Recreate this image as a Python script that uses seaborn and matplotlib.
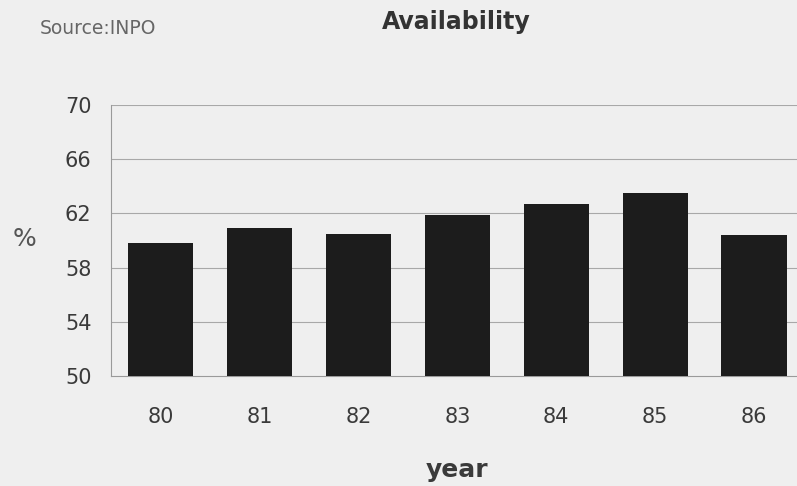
import matplotlib
matplotlib.use("Agg")
import matplotlib.pyplot as plt
import seaborn as sns
import pandas as pd
import numpy as np

# Annual plant availability (%)
years = ["80", "81", "82", "83", "84", "85", "86"]
availability = [59.8, 60.9, 60.5, 61.9, 62.7, 63.5, 60.4]
y_ticks = [50, 54, 58, 62, 66, 70]

df = pd.DataFrame({"year": years, "availability": availability})

sns.set_theme(style="white")
plt.rcParams["font.family"] = ["DejaVu Sans"]

bg = "#efefef"
text_col = "#3a3a3a"

fig = plt.figure(figsize=(7.97, 4.86), dpi=100, facecolor=bg)
ax = fig.add_axes([0.1393, 0.2263, 0.869, 0.5576])
ax.set_facecolor(bg)

sns.barplot(data=df, x="year", y="availability", color="#1c1c1c",
            width=0.66, saturation=1, linewidth=0, edgecolor="none",
            ax=ax, zorder=3)

ax.set_ylim(50, 70)
ax.set_xlim(-0.5, len(years) - 0.5)
ax.set_yticks(y_ticks)
ax.set_yticklabels([str(t) for t in y_ticks])

# horizontal grid lines
for t in y_ticks[1:]:
    ax.axhline(t, color="#a8a8a8", lw=0.8, zorder=1)

for side in ["top", "right"]:
    ax.spines[side].set_visible(False)
ax.spines["left"].set_color("#9a9a9a")
ax.spines["left"].set_linewidth(0.8)
ax.spines["bottom"].set_color("#9a9a9a")
ax.spines["bottom"].set_linewidth(0.8)

ax.tick_params(axis="y", length=3, width=0.8, color="#9a9a9a", direction="in",
               pad=14, labelsize=15, labelcolor=text_col)
ax.tick_params(axis="x", length=0, pad=22, labelsize=15, labelcolor=text_col)
ax.set_xticks(np.arange(-0.5, len(years), 1), minor=True)
ax.tick_params(axis="x", which="minor", length=3, width=0.8, color="#9a9a9a",
               direction="out")

ax.set_xlabel("")
ax.set_ylabel("")

fig.text(457 / 797, 1 - 470 / 486, "year", ha="center", va="center",
         fontsize=18, fontweight="bold", color=text_col)
fig.text(24 / 797, 1 - 239 / 486, "%", ha="center", va="center",
         fontsize=18, color="#555555")
fig.text(456 / 797, 1 - 22 / 486, "Availability", ha="center", va="center",
         fontsize=17, fontweight="bold", color="#333333")
fig.text(40 / 797, 1 - 28 / 486, "Source:INPO", ha="left", va="center",
         fontsize=13.5, color="#666666")

fig.savefig("out.png", dpi=100, facecolor=bg)
